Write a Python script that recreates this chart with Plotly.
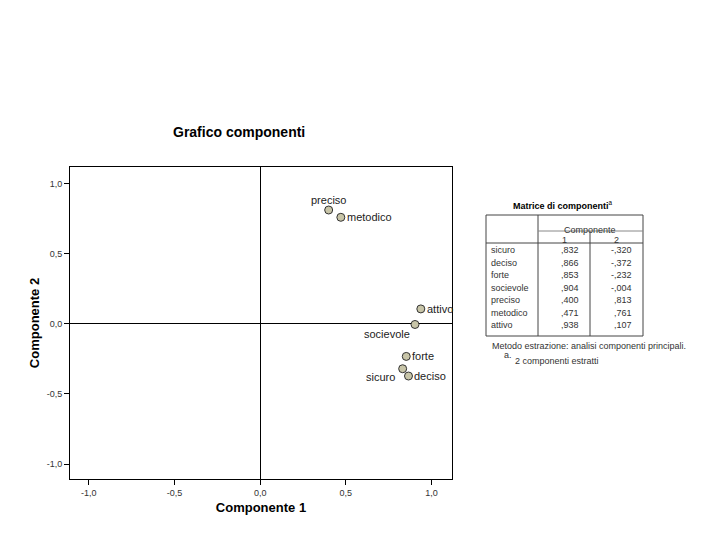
import plotly.graph_objects as go

# loadings (component matrix)
variables = ["sicuro", "deciso", "forte", "socievole", "preciso", "metodico", "attivo"]
comp1 = [0.832, 0.866, 0.853, 0.904, 0.400, 0.471, 0.938]
comp2 = [-0.320, -0.372, -0.232, -0.004, 0.813, 0.761, 0.107]

# label placement next to each point: (xanchor, xshift, yshift)
label_place = [("right", -6, -8), ("left", 4, 0), ("left", 4, 0), ("center", -28, -10),
               ("center", 0, 10), ("left", 4, 0), ("left", 4, 0)]

tick_vals = [-1.0, -0.5, 0.0, 0.5, 1.0]
tick_text = ["-1,0", "-0,5", "0,0", "0,5", "1,0"]

# page body has an 8px margin, so the figure is drawn 8px in
OFF = 8
W, H = 720 - OFF, 540 - OFF
L, R, T, B = 70, 452, 167, 479   # plot frame in page pixels


def px(x):
    return (x - L) / (R - L)


def py(y):
    return (B - y) / (B - T)


def fmt(v):
    s = f"{v:.3f}"
    return s.replace("0.", ",", 1)


fig = go.Figure()
fig.add_trace(go.Scatter(
    x=comp1, y=comp2, mode="markers",
    marker=dict(size=8, color="#c8c5a8", line=dict(color="#333", width=1)),
    cliponaxis=False, showlegend=False, hoverinfo="skip",
))

for name, x, y, (xa, xs, ys) in zip(variables, comp1, comp2, label_place):
    fig.add_annotation(x=x, y=y, xref="x", yref="y", text=name, showarrow=False,
                       xanchor=xa, yanchor="middle", xshift=xs, yshift=ys,
                       font=dict(family="Arial", size=11, color="#222"))

axis_common = dict(
    tickvals=tick_vals, ticktext=tick_text, ticks="outside", ticklen=5,
    tickcolor="black", tickfont=dict(family="Arial", size=9, color="#333"),
    showgrid=False, zeroline=True, zerolinecolor="black", zerolinewidth=1,
    showline=True, linecolor="black", linewidth=1, mirror=True,
)

fig.update_layout(
    width=W, height=H,
    margin=dict(l=L - OFF, r=W - (R - OFF), t=T - OFF, b=H - (B - OFF)),
    paper_bgcolor="white", plot_bgcolor="white",
    xaxis=dict(range=[-1.11, 1.12],
               title=dict(text="Componente 1", standoff=6,
                          font=dict(family="Arial", size=13, color="black", weight="bold")),
               **axis_common),
    yaxis=dict(range=[-1.107, 1.12],
               title=dict(text="Componente 2", standoff=4,
                          font=dict(family="Arial", size=13, color="black", weight="bold")),
               **axis_common),
)

# title and component matrix table, placed in page pixels
ann = []
shp = []
tf = dict(family="Arial", size=9, color="#333")
ann.append(dict(x=px(239), y=py(132), text="<b>Grafico componenti</b>",
                font=dict(family="Arial", size=14, color="black")))

tl, tr, tt, tb = 486, 643, 215, 336
c1, c2 = 538, 590
line = dict(color="#444", width=1)
shp.append(dict(type="rect", x0=px(tl), x1=px(tr), y0=py(tb), y1=py(tt), line=line))
shp.append(dict(type="line", x0=px(c1), x1=px(c1), y0=py(tb), y1=py(tt), line=line))
shp.append(dict(type="line", x0=px(c2), x1=px(c2), y0=py(tb), y1=py(231), line=line))
shp.append(dict(type="line", x0=px(c1), x1=px(tr), y0=py(231), y1=py(231),
                line=dict(color="#888", width=1)))
shp.append(dict(type="line", x0=px(tl), x1=px(tr), y0=py(243), y1=py(243), line=line))

ann.append(dict(x=px(563), y=py(205), text="<b>Matrice di componenti</b><sup>a</sup>",
                font=dict(family="Arial", size=9, color="black")))
ann.append(dict(x=px(590), y=py(230), text="Componente", font=tf))
ann.append(dict(x=px(564), y=py(240), text="1", font=tf))
ann.append(dict(x=px(616), y=py(240), text="2", font=tf))
for i, v in enumerate(variables):
    yy = py(250 + i * 12.5)
    ann.append(dict(x=px(489), y=yy, text=v, xanchor="left", font=tf))
    ann.append(dict(x=px(581), y=yy, text=fmt(comp1[i]), xanchor="right", font=tf))
    ann.append(dict(x=px(634), y=yy, text=fmt(comp2[i]), xanchor="right", font=tf))
ann.append(dict(x=px(490), y=py(346), xanchor="left",
                text="Metodo estrazione: analisi componenti principali.", font=tf))
ann.append(dict(x=px(502), y=py(355), xanchor="left", text="a.", font=tf))
ann.append(dict(x=px(513), y=py(361), xanchor="left",
                text="2 componenti estratti", font=tf))
for a in ann:
    a.setdefault("xanchor", "center")
    a.update(xref="paper", yref="paper", showarrow=False, yanchor="middle")
    fig.add_annotation(**a)
for s in shp:
    s.update(xref="paper", yref="paper")
    fig.add_shape(**s)

fig.write_html("out.html")
